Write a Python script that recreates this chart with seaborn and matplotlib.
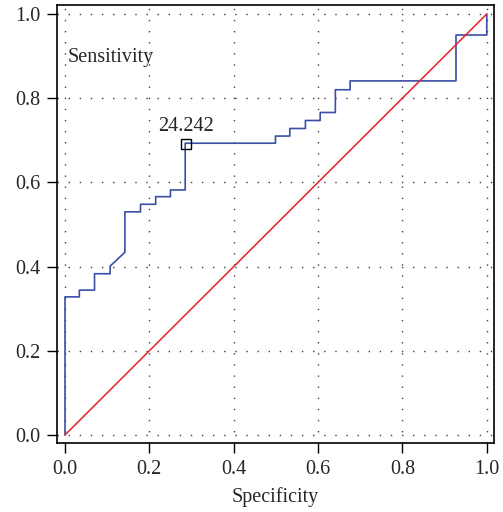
import numpy as np
import pandas as pd
import matplotlib
matplotlib.use("Agg")
import matplotlib.pyplot as plt
import seaborn as sns

# ROC curve vertices (specificity axis, sensitivity)
spec = [0.0, 0.0, 0.034, 0.034, 0.070, 0.070, 0.107, 0.107, 0.142, 0.142,
        0.179, 0.179, 0.215, 0.215, 0.250, 0.250, 0.285, 0.285, 0.499, 0.499,
        0.533, 0.533, 0.570, 0.570, 0.605, 0.605, 0.641, 0.641, 0.676, 0.676,
        0.927, 0.927, 1.0, 1.0]
sens = [0.0, 0.328, 0.328, 0.344, 0.344, 0.383, 0.383, 0.401, 0.434, 0.530,
        0.530, 0.548, 0.548, 0.566, 0.566, 0.582, 0.582, 0.693, 0.693, 0.710,
        0.710, 0.728, 0.728, 0.747, 0.747, 0.766, 0.766, 0.820, 0.820, 0.841,
        0.841, 0.950, 0.950, 1.0]
ref_line = [0.0, 1.0]
cut_x, cut_y, cut_label = 0.287, 0.692, "24.242"
ticks = [0.0, 0.2, 0.4, 0.6, 0.8, 1.0]

sns.set_style("ticks")
plt.rcParams["font.family"] = ["Liberation Serif", "DejaVu Serif"]

fig = plt.figure(figsize=(5.03, 5.12), dpi=100)
ax = fig.add_axes([0.1133, 0.1348, 0.8687, 0.8552])

roc = pd.DataFrame({"spec": spec, "sens": sens})
sns.lineplot(data=roc, x="spec", y="sens", sort=False, estimator=None,
             color="#3a4fa6", linewidth=1.2, ax=ax)
sns.lineplot(x=ref_line, y=ref_line, color="#e8202a", linewidth=1.1, ax=ax)

ax.plot([cut_x], [cut_y], marker="s", markersize=7, markerfacecolor="none",
        markeredgecolor="black", markeredgewidth=1.0, linestyle="none")
ax.text(cut_x, cut_y + 0.018, cut_label, ha="center", va="bottom", fontsize=14.5)

ax.text(0.025, 0.881, "Sensitivity", transform=ax.transAxes, ha="left",
        va="center", fontsize=14.5)

ax.set_xlim(-0.019, 1.017)
ax.set_ylim(-0.019, 1.021)
ax.set_xticks(ticks)
ax.set_yticks(ticks)
ax.set_xticklabels([f"{t:.1f}" for t in ticks])
ax.set_yticklabels([f"{t:.1f}" for t in ticks])
ax.tick_params(labelsize=14.5, length=7, width=1.0, color="black", pad=5)
ax.set_xlabel("Specificity", fontsize=14.5, labelpad=6)
ax.set_ylabel("")
ax.grid(True, linestyle=(0, (1, 7)), color="0.25", linewidth=1.0)
for s in ax.spines.values():
    s.set_visible(True)
    s.set_color("black")
    s.set_linewidth(1.2)

fig.savefig("out.png", dpi=100)
